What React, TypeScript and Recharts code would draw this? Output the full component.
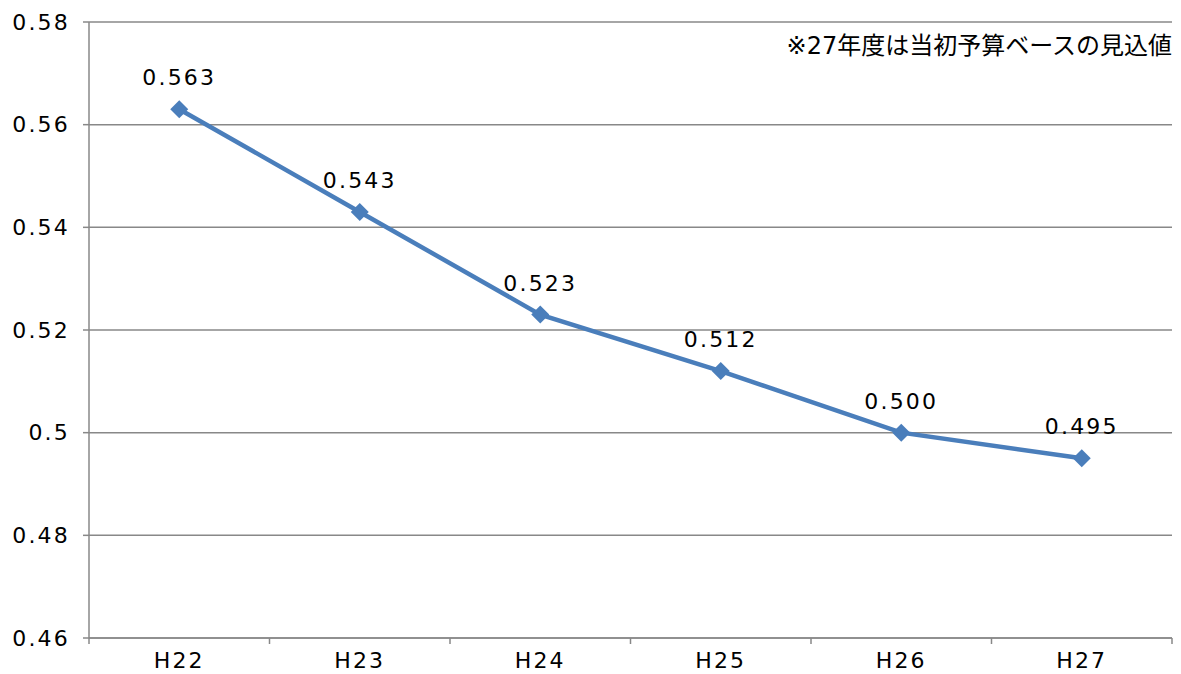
import React from "react";
import { LineChart, Line, XAxis, YAxis, CartesianGrid, LabelList } from "recharts";

const categories = ["H22", "H23", "H24", "H25", "H26", "H27"];
const values = [0.563, 0.543, 0.523, 0.512, 0.5, 0.495];
const yTicks = [0.46, 0.48, 0.5, 0.52, 0.54, 0.56, 0.58];
const note = "※27年度は当初予算ベースの見込値";

const data = categories.map((c, i) => ({ name: c, value: values[i] }));

const W = 1181;
const H = 674;
const M = { top: 22, right: 9, bottom: 0, left: 0 };
const YW = 89;
const XH = 36;
const FONT = "'DejaVu Sans', 'Noto Sans CJK JP', sans-serif";
const LINE = "#4a7ebb";
const GRID = "#888888";
const TXT = { fill: "#000", fontSize: 22, fontFamily: FONT, letterSpacing: 2.2 };

const band = (W - M.right - YW) / categories.length;

const XTick = (props: any) => {
  const { x, y, payload, index } = props;
  const isLast = index === categories.length - 1;
  return (
    <g>
      <line x1={x - band / 2} x2={x - band / 2} y1={y - 8} y2={y - 2} stroke={GRID} strokeWidth={1.5} />
      {isLast && <line x1={x + band / 2} x2={x + band / 2} y1={y - 8} y2={y - 2} stroke={GRID} strokeWidth={1.5} />}
      <text x={x} y={y + 22} textAnchor="middle" {...TXT}>
        {payload.value}
      </text>
    </g>
  );
};

const Diamond = (props: any) => {
  const { cx, cy } = props;
  const r = 9;
  return (
    <path d={`M${cx},${cy - r}L${cx + r},${cy}L${cx},${cy + r}L${cx - r},${cy}Z`} fill={LINE} />
  );
};

export default function App() {
  return (
    <div style={{ position: "absolute", left: 0, top: 0, width: W, height: H, background: "#fff" }}>
      <LineChart width={W} height={H} data={data} margin={M}>
        <CartesianGrid vertical={false} stroke={GRID} strokeWidth={1.5} />
        <XAxis
          dataKey="name"
          scale="band"
          height={XH}
          axisLine={{ stroke: GRID, strokeWidth: 1.5 }}
          tickLine={false}
          tick={<XTick />}
          interval={0}
        />
        <YAxis
          width={YW}
          domain={[0.46, 0.58]}
          ticks={yTicks}
          axisLine={{ stroke: GRID, strokeWidth: 1.5 }}
          tickLine={{ stroke: GRID, strokeWidth: 1.5 }}
          tickSize={6}
          tickMargin={13}
          tick={TXT}
          tickFormatter={(v: number) => String(v)}
        />
        <Line
          type="linear"
          dataKey="value"
          stroke={LINE}
          strokeWidth={4.5}
          dot={<Diamond />}
          activeDot={false}
          isAnimationActive={false}
        >
          <LabelList
            dataKey="value"
            position="top"
            offset={24}
            formatter={(v: number) => v.toFixed(3)}
            style={TXT}
          />
        </Line>
        <text x={W - M.right} y={54} textAnchor="end" fill="#000" fontSize={24} fontFamily={FONT}>
          {note}
        </text>
      </LineChart>
    </div>
  );
}
